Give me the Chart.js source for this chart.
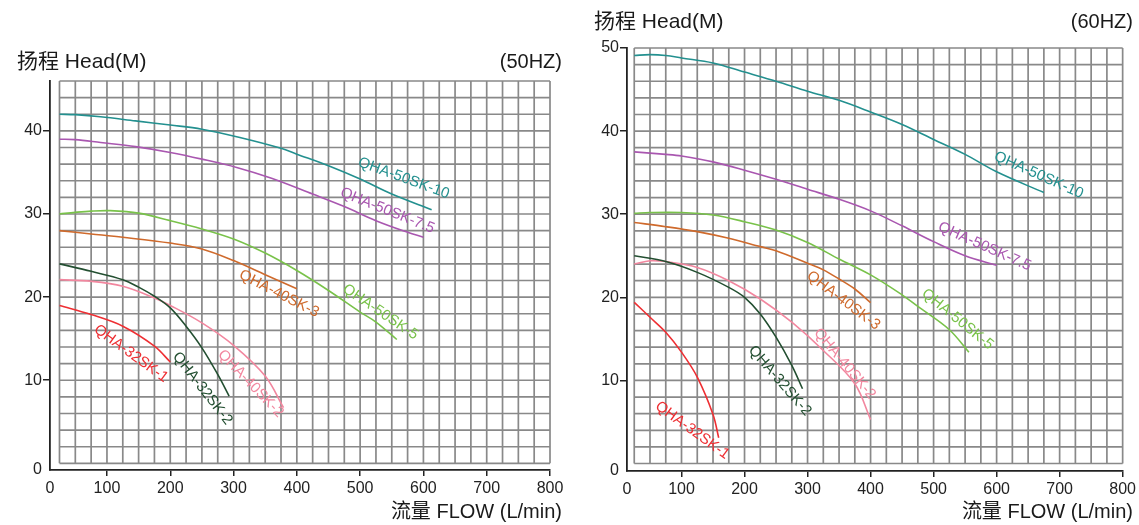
<!DOCTYPE html>
<html><head><meta charset="utf-8">
<script src="https://cdn.jsdelivr.net/npm/chart.js@4.4.1/dist/chart.umd.min.js"></script>
<style>
html,body{margin:0;padding:0;background:#fff;}
#wrap{position:relative;width:1139px;height:525px;overflow:hidden;background:#fff;}
canvas{position:absolute;top:0;}
.t{position:absolute;font-family:'Liberation Sans',Arial,'Noto Sans CJK SC',sans-serif;color:#1a1a1a;white-space:nowrap;line-height:1;}
</style></head>
<body><div id="wrap">
<canvas id="c50" width="575" height="525" style="left:0px"></canvas>
<canvas id="c60" width="564" height="525" style="left:575px"></canvas>
<div class="t" style="left:17px;top:50px;font-size:21px">扬程 Head(M)</div>
<div class="t" style="right:577px;top:51px;font-size:20px">(50HZ)</div>
<div class="t" style="right:577px;top:501px;font-size:20px">流量 FLOW (L/min)</div>
<div class="t" style="left:594px;top:10px;font-size:21px">扬程 Head(M)</div>
<div class="t" style="right:6px;top:11px;font-size:20px">(60HZ)</div>
<div class="t" style="right:6px;top:501px;font-size:20px">流量 FLOW (L/min)</div>
</div>
<script>
// ---- tick labels ----
const flowTicks = [100, 200, 300, 400, 500, 600, 700, 800];
const headTicks50 = [10, 20, 30, 40];
const headTicks60 = [10, 20, 30, 40, 50];

// ---- 50 Hz curves (flow L/min, head m) ----
const f50_10 = [25, 50, 90, 145, 200, 250, 310, 375, 400, 450, 500, 550, 613];
const h50_10 = [42, 41.95, 41.7, 41.2, 40.7, 40.2, 39.2, 37.9, 37.2, 35.8, 34.2, 32.4, 30.5];
const f50_75 = [25, 50, 90, 145, 200, 250, 305, 360, 425, 475, 525, 575, 600];
const h50_75 = [39, 38.95, 38.6, 38.1, 37.4, 36.6, 35.6, 34.3, 32.4, 30.9, 29.2, 27.8, 27.2];
const f50_5 = [25, 50, 75, 105, 150, 200, 250, 300, 350, 400, 450, 500, 525, 558];
const h50_5 = [30, 30.2, 30.35, 30.4, 30.1, 29.2, 28.2, 27.0, 25.3, 23.2, 20.8, 18.2, 17.0, 14.9];
const f50_403 = [25, 75, 125, 200, 250, 300, 350, 400];
const h50_403 = [28, 27.6, 27.2, 26.5, 25.8, 24.4, 22.7, 21.0];
const f50_322 = [25, 75, 125, 150, 175, 200, 225, 250, 275, 293];
const h50_322 = [24, 23.1, 22.1, 21.2, 20.1, 18.7, 16.5, 13.9, 10.7, 8.1];
const f50_402 = [25, 75, 125, 175, 200, 250, 300, 350, 379];
const h50_402 = [22.1, 21.9, 21.3, 19.9, 19.0, 16.9, 14.2, 10.5, 6.7];
const f50_321 = [25, 75, 125, 175, 200];
const h50_321 = [19, 17.9, 16.5, 14.1, 12.2];

// ---- 60 Hz curves ----
const f60_10 = [25, 50, 75, 100, 150, 200, 250, 300, 350, 400, 450, 500, 550, 600, 675];
const h60_10 = [49.1, 49.2, 49.1, 48.8, 48.2, 47.1, 46.0, 44.8, 43.7, 42.3, 40.8, 39.0, 37.2, 35.1, 32.6];
const f60_75 = [25, 75, 100, 150, 200, 250, 300, 350, 400, 450, 500, 550, 600];
const h60_75 = [37.5, 37.2, 37.0, 36.3, 35.3, 34.2, 33.0, 31.8, 30.4, 28.6, 26.7, 25.0, 23.85];
const f60_5 = [25, 50, 100, 150, 200, 250, 300, 350, 400, 450, 475, 525, 556];
const h60_5 = [30.1, 30.2, 30.2, 29.9, 29.1, 28.1, 26.6, 24.6, 22.7, 20.3, 18.9, 16.1, 13.4];
const f60_403 = [25, 75, 125, 175, 225, 250, 300, 325, 350, 375, 400];
const h60_403 = [29, 28.5, 27.9, 27.1, 26.1, 25.6, 24.1, 23.3, 22.2, 21.0, 19.35];
const f60_322 = [25, 75, 125, 175, 200, 225, 250, 275, 292];
const h60_322 = [25, 24.3, 23.0, 21.2, 20.0, 18.0, 15.2, 11.8, 9.0];
const f60_402 = [25, 50, 75, 125, 175, 225, 275, 325, 375, 400];
const h60_402 = [24, 24.4, 24.3, 23.6, 22.0, 19.8, 17.0, 13.6, 9.6, 5.3];
const f60_321 = [25, 50, 75, 100, 125, 150, 159];
const h60_321 = [19.4, 17.6, 15.8, 13.4, 10.4, 5.9, 3.1];

// ---- model names ----
const models = ['QHA-50SK-10', 'QHA-50SK-7.5', 'QHA-50SK-5', 'QHA-40SK-3', 'QHA-32SK-2', 'QHA-40SK-2', 'QHA-32SK-1'];

// ---- styling / annotation placement (not data) ----
const colors = ['#23908f', '#a957b0', '#79c24a', '#cf6a2c', '#234f31', '#f2879f', '#ee2f33'];
const labelSpots50 = [
  {f: 569, h: 34.3, a: 20}, {f: 543, h: 30.4, a: 22}, {f: 532, h: 18.2, a: 34},
  {f: 372, h: 20.4, a: 27}, {f: 251, h: 9.0, a: 52}, {f: 327, h: 9.6, a: 46}, {f: 138, h: 13.2, a: 36}
];
const labelSpots60 = [
  {f: 667, h: 34.7, a: 24}, {f: 581, h: 26.1, a: 24}, {f: 538, h: 17.35, a: 39},
  {f: 357, h: 19.6, a: 37}, {f: 256, h: 9.95, a: 49}, {f: 359, h: 12.0, a: 50}, {f: 117, h: 4.0, a: 36}
];

const TICK_FONT = {family: "'Liberation Sans Narrow','Liberation Sans',Arial,sans-serif", size: 16};
const LABEL_FONT = "15px 'Liberation Sans Narrow','Liberation Sans',Arial,sans-serif";

const cellGrid = {
  id: 'cellGrid',
  beforeDatasetsDraw(chart, args, o) {
    const {ctx, scales: {x, y}} = chart;
    ctx.save();
    ctx.strokeStyle = o.color;
    ctx.lineWidth = o.width;
    const l = x.getPixelForValue(o.x0), r = x.getPixelForValue(o.x1);
    const b = y.getPixelForValue(o.y0), t = y.getPixelForValue(o.y1);
    ctx.beginPath();
    for (let f = o.x0; f <= o.x1 + 1e-6; f += o.dx) {
      const p = x.getPixelForValue(f);
      ctx.moveTo(p, b); ctx.lineTo(p, t);
    }
    for (let v = o.y0; v <= o.y1 + 1e-6; v += o.dy) {
      const p = y.getPixelForValue(v);
      ctx.moveTo(l, p); ctx.lineTo(r, p);
    }
    ctx.stroke();
    ctx.restore();
  }
};

const curveLabels = {
  id: 'curveLabels',
  afterDatasetsDraw(chart, args, o) {
    const {ctx, scales: {x, y}} = chart;
    ctx.save();
    ctx.font = LABEL_FONT;
    ctx.textAlign = 'center';
    ctx.textBaseline = 'middle';
    o.spots.forEach((s, i) => {
      ctx.save();
      ctx.translate(x.getPixelForValue(s.f), y.getPixelForValue(s.h));
      ctx.rotate(s.a * Math.PI / 180);
      ctx.fillStyle = colors[i];
      ctx.fillText(models[i], 0, 0);
      ctx.restore();
    });
    ctx.restore();
  }
};

function makeChart(id, fs, hs, spots, cfg) {
  const datasets = fs.map((f, i) => ({
    label: models[i],
    data: f.map((v, k) => ({x: v, y: hs[i][k]})),
    borderColor: colors[i],
    borderWidth: 1.6,
    pointRadius: 0,
    fill: false,
    tension: 0.35
  }));
  return new Chart(document.getElementById(id), {
    type: 'line',
    data: {datasets},
    plugins: [cellGrid, curveLabels],
    options: {
      responsive: false,
      animation: false,
      events: [],
      layout: {padding: {left: 0, right: cfg.padRight, top: cfg.padTop, bottom: 0}},
      plugins: {
        legend: {display: false},
        tooltip: {enabled: false},
        cellGrid: {x0: 25, x1: 800, dx: 25, y0: 0, y1: cfg.gridTop, dy: 2, color: '#898989', width: 1.7},
        curveLabels: {spots}
      },
      scales: {
        x: {
          type: 'linear', min: cfg.xMin, max: 800,
          afterFit: s => { s.height = cfg.xHeight; },
          afterBuildTicks: s => { s.ticks = [cfg.xMin].concat(flowTicks).map(v => ({value: v})); },
          ticks: {
            autoSkip: false, maxRotation: 0, padding: 3, color: '#222', font: TICK_FONT,
            callback: v => (v === cfg.xMin ? '0' : String(v))
          },
          grid: {
            display: true, drawOnChartArea: false, drawTicks: true, tickLength: 6, lineWidth: 1.5,
            color: c => (c.index === 0 ? 'rgba(0,0,0,0)' : '#222')
          },
          border: {display: true, color: '#222', width: 1.8}
        },
        y: {
          type: 'linear', min: cfg.yMin, max: cfg.yMax,
          afterFit: s => { s.width = cfg.yWidth; },
          afterBuildTicks: s => { s.ticks = [cfg.yMin].concat(cfg.headTicks).map(v => ({value: v})); },
          ticks: {
            autoSkip: false, padding: 1, color: '#222', font: TICK_FONT,
            callback: v => (v === cfg.yMin ? '0' : String(v))
          },
          grid: {
            display: true, drawOnChartArea: false, drawTicks: true, tickLength: 7, lineWidth: 1.5,
            color: c => (c.index === 0 ? 'rgba(0,0,0,0)' : '#222')
          },
          border: {display: true, color: '#222', width: 1.8}
        }
      }
    }
  });
}

makeChart('c50',
  [f50_10, f50_75, f50_5, f50_403, f50_322, f50_402, f50_321],
  [h50_10, h50_75, h50_5, h50_403, h50_322, h50_402, h50_321],
  labelSpots50,
  {xMin: 10, yMin: -0.8, yMax: 46, gridTop: 46, headTicks: headTicks50,
   padRight: 25, padTop: 81, xHeight: 55, yWidth: 50});

makeChart('c60',
  [f60_10, f60_75, f60_5, f60_403, f60_322, f60_402, f60_321],
  [h60_10, h60_75, h60_5, h60_403, h60_322, h60_402, h60_321],
  labelSpots60,
  {xMin: 13.5, yMin: -0.9, yMax: 50, gridTop: 50, headTicks: headTicks60,
   padRight: 12, padTop: 48, xHeight: 54, yWidth: 52});
</script>
</body></html>
